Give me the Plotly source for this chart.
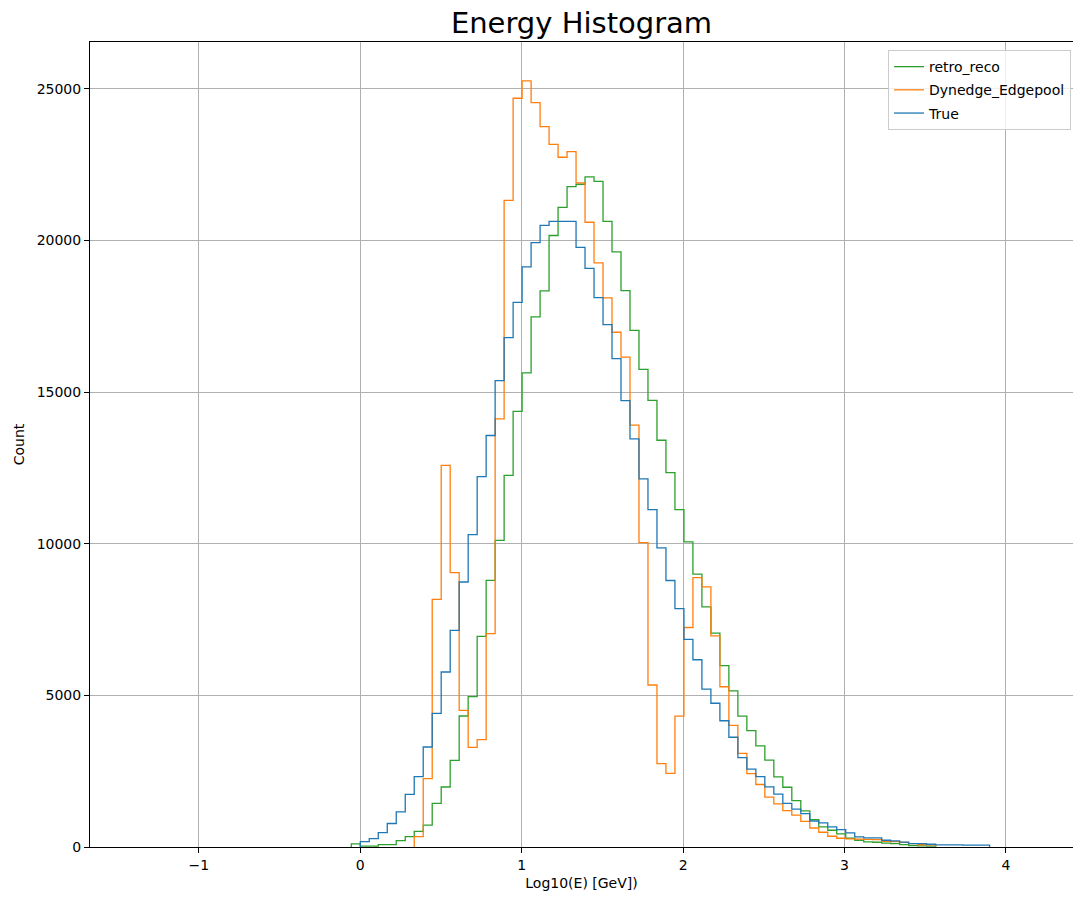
import numpy as np
import plotly.graph_objects as go

# Histogram binning (100 bins); counts listed from bin index FIRST_BIN onward
BIN_START = -1.3925
BIN_WIDTH = 0.0557
N_BINS = 100
FIRST_BIN = 24

true_counts = [
    0, 180, 275, 475, 775, 1160, 1735, 2318, 3297, 4407, 5770, 7143, 8737, 10297,
    12209, 13567, 15376, 16795, 17958, 19123, 19925, 20497, 20629, 20629, 20629,
    19771, 19079, 18112, 17222, 16100, 14716, 13456, 12138, 11121, 9861, 8786,
    7861, 6844, 6173, 5202, 4740, 4162, 3618, 2948, 2570, 2320, 1985, 1740, 1440,
    1250, 1100, 858, 793, 662, 574, 464, 332, 299, 299, 222, 200, 160, 112, 112,
    90, 70, 70, 68, 65, 65, 62,
]

dynedge_counts = [
    0, 0, 0, 0, 0, 0, 0, 340, 2253, 8166, 12584, 9045, 4506, 3286, 3539, 7034,
    14113, 21320, 24686, 25257, 24543, 23751, 23168, 22740, 22927, 21894, 20597,
    19256, 18102, 16970, 16150, 13907, 10034, 5341, 2751, 2428, 4312, 7237, 8878,
    8578, 6959, 5283, 4011, 3087, 2418, 2060, 1645, 1425, 1200, 1050, 846, 626,
    486, 354, 288, 266, 260, 250, 240, 190, 175, 150, 110, 75, 70,
]

retro_counts = [
    100, 30, 30, 80, 80, 210, 340, 517, 720, 1440, 1978, 2857, 4319, 4956, 6946,
    8792, 10111, 12254, 14364, 15629, 17479, 18336, 20160, 21090, 21772, 21850,
    22091, 21948, 20629, 19618, 18343, 17030, 15745, 14727, 13410, 12346, 11121,
    10057, 8994, 7919, 7052, 5977, 5144, 4312, 3838, 3336, 2863, 2315, 1970, 1530,
    1188, 903, 662, 552, 431, 288, 222, 167, 156, 125, 110, 80, 46, 40, 30,
]

series_names = ["retro_reco", "Dynedge_Edgepool", "True"]
series_counts = [retro_counts, dynedge_counts, true_counts]
series_colors = ["#2ca02c", "#ff7f0e", "#1f77b4"]

edges = BIN_START + BIN_WIDTH * np.arange(N_BINS + 1)


def full_counts(vals):
    c = np.zeros(N_BINS)
    c[FIRST_BIN:FIRST_BIN + len(vals)] = vals
    return c


fig = go.Figure()
for name, vals, color in zip(series_names, series_counts, series_colors):
    c = full_counts(vals)
    nz = np.nonzero(c)[0]
    lo, hi = nz[0], nz[-1] + 1
    xs = np.concatenate([[edges[lo]], edges[lo:hi + 1]])
    ys = np.concatenate([[0.0], c[lo:hi], [0.0]])
    fig.add_trace(go.Scatter(
        x=xs, y=ys, mode="lines", name=name, legendgroup=name,
        line=dict(color=color, width=1.3, shape="hv"),
    ))

font_family = "DejaVu Sans"
fig.update_layout(
    width=1073, height=898,
    margin=dict(l=90, r=0, t=42, b=51),
    paper_bgcolor="white", plot_bgcolor="white",
    font=dict(family=font_family, size=14, color="black"),
    title=dict(text="Energy Histogram", x=(90 + 1073) / 2 / 1073, xanchor="center",
               y=1 - 23 / 898, yanchor="middle", font=dict(size=29, color="black")),
    showlegend=True,
    legend=dict(x=0.998, xanchor="right", y=0.99, yanchor="top",
                traceorder="grouped", tracegroupgap=2,
                bgcolor="rgba(255,255,255,0.8)", bordercolor="#cccccc", borderwidth=1,
                font=dict(size=14, color="black")),
)
fig.update_xaxes(
    range=[-1.6747, 4.4158], tick0=0, dtick=1,
    showgrid=True, gridcolor="#b0b0b0", gridwidth=1, zeroline=False,
    showline=True, linecolor="black", linewidth=1, mirror=True,
    ticks="outside", ticklen=5, tickcolor="black", layer="above traces",
    automargin=False,
    title=dict(text="Log10(E) [GeV])", font=dict(size=14), standoff=6),
)
fig.update_yaxes(
    range=[0, 26540], tick0=0, dtick=5000, tickformat="d",
    showgrid=True, gridcolor="#b0b0b0", gridwidth=1, zeroline=False,
    showline=True, linecolor="black", linewidth=1, mirror=False,
    ticks="outside", ticklen=5, tickcolor="black", layer="above traces",
    automargin=False,
    title=dict(text="Count", font=dict(size=14), standoff=8),
)

fig.write_html("out.html", config={"displayModeBar": False},
               post_script="document.body.style.margin='0';")
